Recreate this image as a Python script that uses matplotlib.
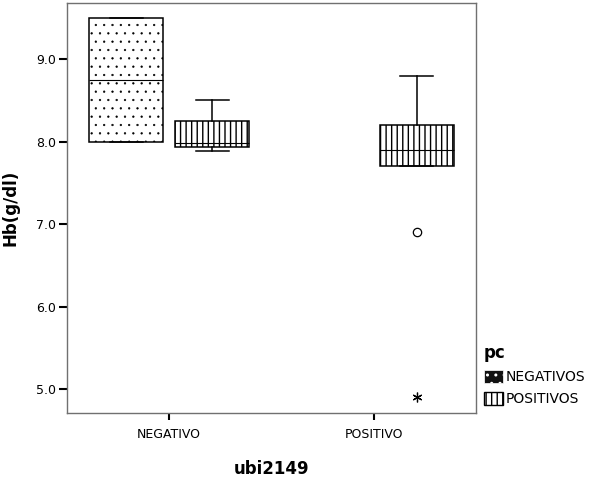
import matplotlib
matplotlib.use("Agg")
import matplotlib.pyplot as plt
from matplotlib.patches import Patch

# Hb (g/dl) by ubi2149 and pc
groups = ["NEGATIVO", "POSITIVO"]
series = ["NEGATIVOS", "POSITIVOS"]

# one entry per box: (group index, series index)
box_group = [0, 0, 1]
box_series = [0, 1, 1]
q1 = [8.0, 7.93, 7.7]
median = [8.75, 7.98, 7.9]
q3 = [9.5, 8.25, 8.2]
whisker_low = [8.0, 7.88, 7.7]
whisker_high = [9.5, 8.5, 8.8]

# points beyond the whiskers for ubi2149 = POSITIVO, pc = POSITIVOS
outliers = [6.9]
extremes = [4.9]

series_offset = [-0.21, 0.21]
series_hatch = ["..", "|||"]
series_hatch_lw = [0.4, 1.0]

plt.rcParams["font.family"] = "DejaVu Sans"
plt.rcParams["hatch.linewidth"] = 1.0

fig = plt.figure(figsize=(5.92, 4.80), dpi=100)
ax = fig.add_axes([67 / 592, 1 - 413 / 480, 409 / 592, 410 / 480])

stats = []
positions = []
for i in range(len(q1)):
    stats.append({"q1": q1[i], "med": median[i], "q3": q3[i],
                  "whislo": whisker_low[i], "whishi": whisker_high[i],
                  "fliers": []})
    positions.append(box_group[i] + series_offset[box_series[i]])

bp = ax.bxp(stats, positions=positions, widths=0.36, capwidths=0.16,
            patch_artist=True, showfliers=False,
            boxprops=dict(facecolor="white", edgecolor="black", linewidth=1.1),
            medianprops=dict(color="black", linewidth=0.8),
            whiskerprops=dict(color="black", linewidth=1.1),
            capprops=dict(color="black", linewidth=1.1))
for box, s in zip(bp["boxes"], box_series):
    box.set_hatch(series_hatch[s])
    if hasattr(box, "set_hatch_linewidth"):
        box.set_hatch_linewidth(series_hatch_lw[s])

flier_x = 1 + series_offset[1]
ax.plot([flier_x] * len(outliers), outliers, linestyle="none", marker="o",
        markersize=6, markerfacecolor="white", markeredgecolor="black",
        markeredgewidth=0.9)
ax.plot([flier_x] * len(extremes), extremes, linestyle="none",
        marker=(6, 2, 0), markersize=7, color="black", markeredgewidth=0.9)

ax.set_xlim(-0.5, 1.5)
ax.set_ylim(4.71, 9.68)
ax.set_xticks(range(len(groups)))
ax.set_xticklabels(groups, fontsize=9)
ax.set_yticks([5, 6, 7, 8, 9])
ax.set_yticklabels(["5.0", "6.0", "7.0", "8.0", "9.0"], fontsize=9)
ax.tick_params(axis="y", direction="out", length=6, width=1.5, pad=2,
               color="black")
ax.tick_params(axis="x", direction="out", length=5, width=1.5, pad=6,
               color="black")

for sp in ax.spines.values():
    sp.set_color("#707070")
    sp.set_linewidth(1.0)

ax.set_ylabel("Hb(g/dl)", fontsize=12, fontweight="bold")
ax.yaxis.set_label_coords(-0.116, 0.5)
ax.set_xlabel("ubi2149", fontsize=12, fontweight="bold")
ax.xaxis.set_label_coords(0.5, -0.115)

handles = [
    Patch(facecolor="#111111", edgecolor="white", hatch="..", linewidth=0.5),
    Patch(facecolor="white", edgecolor="black", hatch="|||", linewidth=1.0),
]
leg = fig.legend(handles, series, loc="upper left",
                 bbox_to_anchor=(484 / 592, 1 - 344 / 480),
                 frameon=False, borderpad=0, borderaxespad=0,
                 handlelength=1.4, handleheight=1.1, handletextpad=0.15,
                 labelspacing=0.55, fontsize=10, title="pc",
                 title_fontproperties={"weight": "bold", "size": 12},
                 alignment="left")

fig.savefig("out.png", dpi=100)
